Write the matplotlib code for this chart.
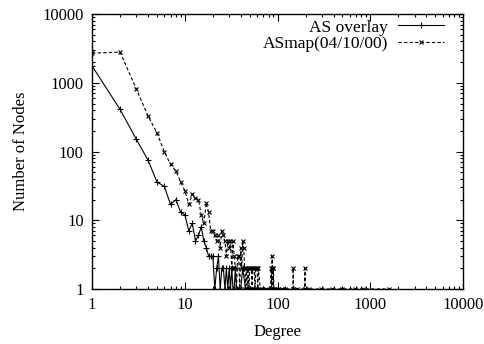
import matplotlib.pyplot as plt
from matplotlib.ticker import LogLocator, FixedLocator, NullFormatter

# degree distribution
overlay_deg = [1, 2, 3, 4, 5, 6, 7, 8, 9, 10, 11, 12, 13, 14, 15, 16, 17, 18, 19, 20,
               21, 22, 23, 24, 25, 26, 27, 28, 29, 30, 31, 32, 33, 34, 35, 36, 38, 40,
               42, 45, 48, 50, 55, 60, 70, 90, 120]
overlay_cnt = [1750, 410, 150, 75, 36, 31, 17, 20, 13, 12, 7, 9, 5, 6, 8, 5, 4, 3, 3, 3,
               1, 2, 3, 1, 2, 2, 1, 2, 1, 2, 1, 2, 1, 1, 2, 1, 1, 1,
               2, 1, 1, 1, 1, 1, 1, 1, 1]

asmap_deg = [1, 2, 3, 4, 5, 6, 7, 8, 9, 10, 11, 12, 13, 14, 15, 16, 17, 18, 19, 20,
             21, 22, 23, 24, 25, 26, 27, 28, 29, 30, 31, 32, 33, 34, 35, 36, 37, 38,
             39, 40, 41, 42, 43, 44, 45, 46, 47, 48, 49, 50, 52, 53, 54, 56, 57, 58,
             60, 61, 62, 65, 68, 75, 84, 85, 86, 87, 88, 89, 90, 91, 95, 100, 110,
             120, 146, 147, 148, 160, 196, 197, 198, 220, 290, 390, 500, 680, 830, 1600]
asmap_cnt = [2700, 2800, 810, 330, 187, 99, 65, 52, 36, 27, 17, 24, 21, 20, 12, 9, 18, 13, 7, 7,
             6, 5, 6, 4, 7, 6, 5, 3, 5, 4, 5, 2, 5, 3, 2, 1, 3, 3,
             1, 4, 2, 5, 4, 2, 1, 2, 1, 2, 1, 2, 2, 1, 2, 2, 1, 2,
             2, 1, 2, 1, 1, 1, 1, 2, 1, 3, 2, 1, 2, 1, 1, 1, 1,
             1, 1, 2, 1, 1, 1, 2, 1, 1, 1, 1, 1, 1, 1, 1]

plt.rcParams['font.family'] = 'Liberation Serif'
plt.rcParams['font.size'] = 12

fig = plt.figure(figsize=(4.85, 3.44), dpi=100)
ax = fig.add_axes([0.19, 0.16, 0.765, 0.799])

ax.plot(overlay_deg, overlay_cnt, color='black', lw=0.8, marker='+', ms=4,
        mew=0.8, label='AS overlay')
ax.plot(asmap_deg, asmap_cnt, color='black', lw=0.8, ls=(0, (3, 2)), marker='x',
        ms=3.5, mew=0.8, label='ASmap(04/10/00)')

ax.set_xscale('log')
ax.set_yscale('log')
ax.set_xlim(1, 10000)
ax.set_ylim(1, 10000)

ax.xaxis.set_major_locator(FixedLocator([1, 10, 100, 1000, 10000]))
ax.yaxis.set_major_locator(FixedLocator([1, 10, 100, 1000, 10000]))
ax.set_xticklabels(['1', '10', '100', '1000', '10000'])
ax.set_yticklabels(['1', '10', '100', '1000', '10000'])
ax.xaxis.set_minor_locator(LogLocator(base=10, subs=range(2, 10)))
ax.yaxis.set_minor_locator(LogLocator(base=10, subs=range(2, 10)))
ax.xaxis.set_minor_formatter(NullFormatter())
ax.yaxis.set_minor_formatter(NullFormatter())
ax.tick_params(which='both', direction='in', top=True, right=True, width=0.8)
ax.tick_params(which='major', length=5, pad=6)
ax.tick_params(which='minor', length=2.5)
for s in ax.spines.values():
    s.set_linewidth(1.0)

ax.set_xlabel('Degree', labelpad=8)
ax.set_ylabel('Number of Nodes', labelpad=10)

ax.legend(loc='upper right', bbox_to_anchor=(0.98, 1.025), frameon=False,
          markerfirst=False, handlelength=2.6, handletextpad=0.6,
          labelspacing=0.0, borderpad=0.2, fontsize=12.5)

fig.savefig('out.png', dpi=100)
